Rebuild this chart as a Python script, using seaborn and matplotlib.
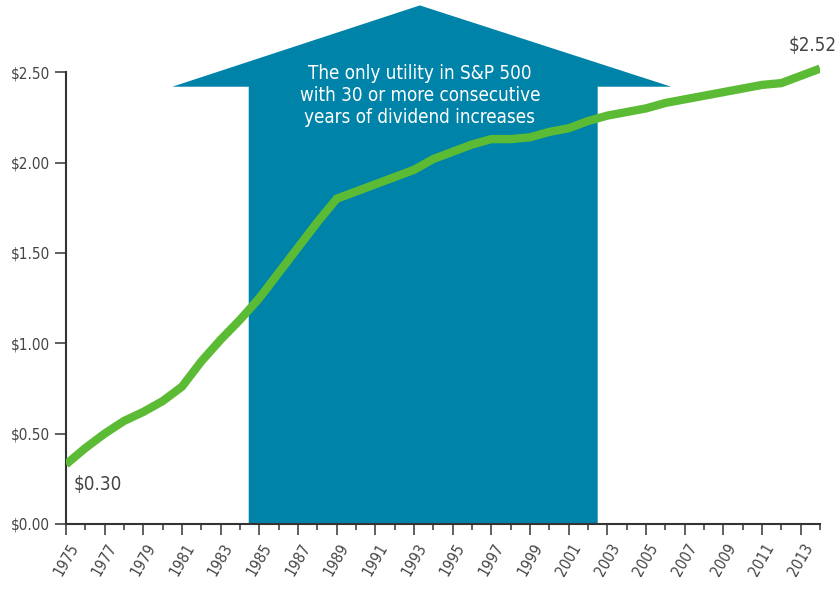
import numpy as np
import pandas as pd
import matplotlib
matplotlib.use('Agg')
import matplotlib.pyplot as plt
from matplotlib.ticker import FuncFormatter
import seaborn as sns

# данные дивидендов
years = list(range(1975, 2015))
dividends = [0.33, 0.42, 0.50, 0.57, 0.62, 0.68, 0.76, 0.90, 1.02, 1.13,
             1.25, 1.39, 1.53, 1.67, 1.80, 1.84, 1.88, 1.92, 1.96, 2.02,
             2.06, 2.10, 2.13, 2.13, 2.14, 2.17, 2.19, 2.23, 2.26, 2.28,
             2.30, 2.33, 2.35, 2.37, 2.39, 2.41, 2.43, 2.44, 2.48, 2.52]
y_ticks = [0.0, 0.5, 1.0, 1.5, 2.0, 2.5]
arrow_text = "The only utility in S&P 500\nwith 30 or more consecutive\nyears of dividend increases"
start_label = "\\$0.30"
end_label = "\\$2.52"

df = pd.DataFrame({'year': years, 'dividend': dividends})

sns.set_style("white")
plt.rcParams['font.family'] = ['DejaVu Sans']
plt.rcParams['font.stretch'] = 'condensed'

teal = '#0083A8'
green = '#5CBB34'
grey = '#444444'

fig = plt.figure(figsize=(8.4, 5.92), dpi=100)
ax = fig.add_axes([0.0786, 0.115, 0.8976, 0.885])

# стрелка на фоне
shaft_l, shaft_r = 1984.45, 2002.5
head_l, head_r, tip_x = 1980.5, 2006.3, 1993.3
head_base, tip_y = 2.42, 2.87
ax.fill([shaft_l, shaft_l, head_l, tip_x, head_r, shaft_r, shaft_r],
        [0, head_base, head_base, tip_y, head_base, head_base, 0],
        color=teal, lw=0, zorder=1)
ax.text(tip_x, 2.37, arrow_text, color='white', ha='center', va='center',
        fontsize=13.5, linespacing=1.2, stretch='condensed', zorder=2)

sns.lineplot(data=df, x='year', y='dividend', color=green, linewidth=6,
             ax=ax, zorder=3, solid_capstyle='butt')

ax.text(1975.4, 0.22, start_label, color=grey, fontsize=13.5, ha='left', va='center')
ax.text(2013.6, 2.65, end_label, color=grey, fontsize=13.5, ha='center', va='center')

ax.set_xlim(1975, 2014)
ax.set_ylim(0, 2.9)
ax.set_xlabel('')
ax.set_ylabel('')

ax.set_yticks(y_ticks)
ax.yaxis.set_major_formatter(FuncFormatter(lambda v, p: f"\\${v:.2f}"))
ax.set_xticks([y for y in years if y % 2 == 1])
ax.set_xticks(years, minor=True)
ax.set_xticklabels([str(y) for y in years if y % 2 == 1], rotation=60,
                   ha='center', va='top')

ax.tick_params(axis='y', which='major', length=8, width=1.2, color=grey,
               labelcolor=grey, labelsize=11, left=True, pad=3.5)
ax.tick_params(axis='x', which='major', length=8, width=1.2, color=grey,
               labelcolor=grey, labelsize=11, bottom=True, pad=4)
ax.tick_params(axis='x', which='minor', length=4, width=1.2, color=grey, bottom=True)

for s in ['top', 'right']:
    ax.spines[s].set_visible(False)
for s in ['left', 'bottom']:
    ax.spines[s].set_color('#333333')
    ax.spines[s].set_linewidth(1.5)
ax.spines['left'].set_bounds(0, 2.5)

fig.savefig('out.png', dpi=100)
